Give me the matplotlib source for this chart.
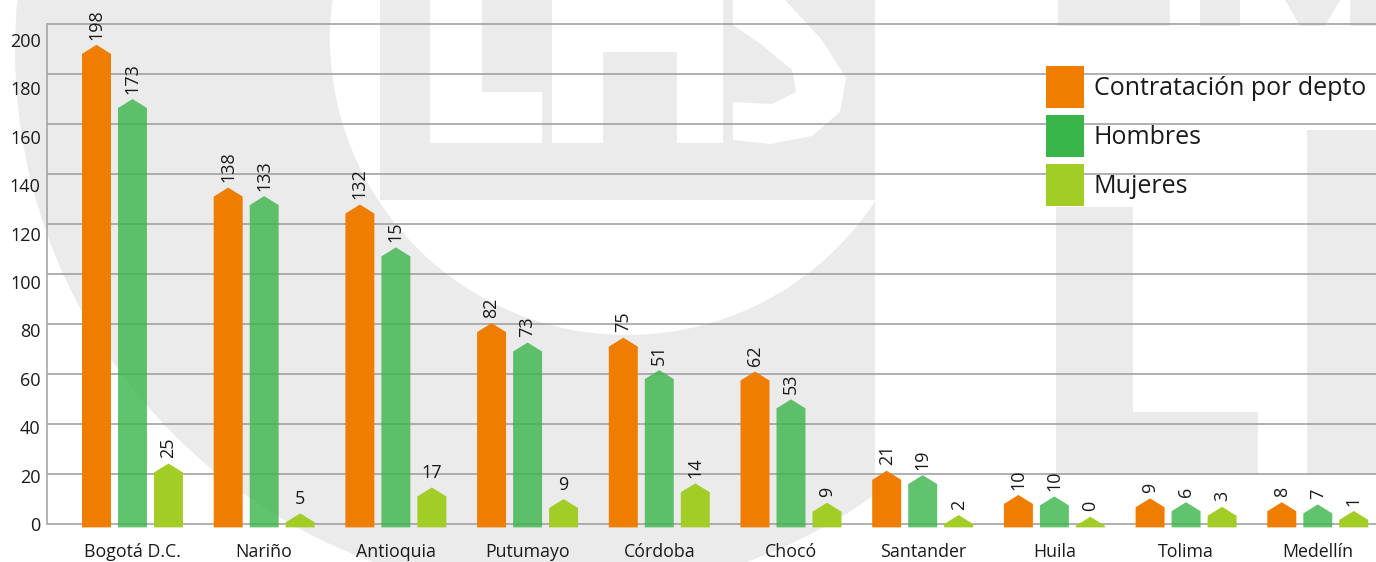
import matplotlib
matplotlib.use('Agg')
import matplotlib.pyplot as plt
from matplotlib.patches import Circle, Rectangle, Polygon, Patch

plt.rcParams['font.family'] = ['Open Sans', 'DejaVu Sans']

# ---------------- data ----------------
categories = ['Bogotá D.C.', 'Nariño', 'Antioquia', 'Putumayo', 'Córdoba',
              'Chocó', 'Santander', 'Huila', 'Tolima', 'Medellín']
series_names = ['Contratación por depto', 'Hombres', 'Mujeres']

# bar heights as drawn in the picture
contratacion = [198, 139, 132, 83, 77, 63, 22, 12, 10.6, 9]
hombres = [175.6, 135.5, 114.3, 75, 63.6, 51.5, 20.2, 11.4, 9, 8.1]
mujeres = [25, 4.4, 15.1, 10.3, 16.8, 8.8, 3.7, 3, 7.1, 5.4]

# value labels printed above the bars
contratacion_labels = ['198', '138', '132', '82', '75', '62', '21', '10', '9', '8']
hombres_labels = ['173', '133', '15', '73', '51', '53', '19', '10', '6', '7']
mujeres_labels = ['25', '5', '17', '9', '14', '9', '2', '0', '3', '1']

yticks = [0, 20, 40, 60, 80, 100, 120, 140, 160, 180, 200]

# ---------------- style ----------------
ORANGE = '#ef7d00'
GREEN = '#3ab54a'
LIME = '#a2cd27'
TXT = '#1a1a1a'
GRIDC = '#9b9b9b'
WM = '#ebebeb'

W, H = 1376, 562
PX_PER_UNIT = 2.42
GRID_STEP = 50 / PX_PER_UNIT
TIP = 9 / PX_PER_UNIT
BASE = -1.4
BAR_W = 0.22
OFFS = [-0.2733, 0.0, 0.2733]
YMIN, YMAX = -2.0, 207.5
XMIN, XMAX = -0.649, 9.442

fig = plt.figure(figsize=(W / 100, H / 100), dpi=100)

# ---------------- watermark (background) ----------------
bg = fig.add_axes([0, 0, 1, 1])
bg.set_xlim(0, W)
bg.set_ylim(H, 0)
bg.axis('off')
bg.set_zorder(0)

clip = Rectangle((0, 0), 875, H, transform=bg.transData)
ring = Circle((560, 50), 545, color=WM, lw=0)
bg.add_patch(ring)
ring.set_clip_path(clip)
inner = Circle((627, 38), 297, color='white', lw=0)
bg.add_patch(inner)
inner.set_clip_path(clip)
bg.add_patch(Rectangle((380, 0), 495, 200, color=WM, lw=0))
for (x0, y0, ww, hh_) in [(430, 0, 52, 143), (430, 92, 112, 51), (552, 0, 51, 143),
                          (603, 0, 74, 52), (677, 0, 46, 143)]:
    bg.add_patch(Rectangle((x0, y0), ww, hh_, color='white', lw=0))
bg.add_patch(Polygon([(733, 0), (785, 0), (822, 40), (846, 78), (840, 112), (812, 136),
                      (770, 144), (733, 140), (733, 102), (772, 104), (796, 92),
                      (792, 70), (762, 45), (733, 25)], closed=True, color='white', lw=0))
for (x0, y0, ww, hh_) in [(1056, 207, 77, 267), (1056, 412, 202, 62), (1307, 130, 69, 344),
                          (1058, 0, 112, 26), (1200, 0, 40, 26), (1350, 0, 26, 26)]:
    bg.add_patch(Rectangle((x0, y0), ww, hh_, color=WM, lw=0))
bg.add_patch(Polygon([(1285, 0), (1340, 0), (1325, 26), (1300, 26)], closed=True, color=WM, lw=0))

# ---------------- main axes ----------------
ax_left = 47 / W
ax_w = (W - 47) / W
top_px = 524 - YMAX * PX_PER_UNIT
bot_px = 524 - YMIN * PX_PER_UNIT
ax = fig.add_axes([ax_left, (H - bot_px) / H, ax_w, (bot_px - top_px) / H])
ax.set_zorder(1)
ax.patch.set_alpha(0)
ax.set_xlim(XMIN, XMAX)
ax.set_ylim(YMIN, YMAX)

for k in range(11):
    ax.axhline(k * GRID_STEP, color=GRIDC, lw=1.1, zorder=1)

for s in ['top', 'right', 'bottom']:
    ax.spines[s].set_visible(False)
ax.spines['left'].set_color('#a0a0a0')
ax.spines['left'].set_linewidth(1.1)
ax.spines['left'].set_bounds(0, 10 * GRID_STEP)

series = [
    (contratacion, contratacion_labels, ORANGE, 1.0, 2),
    (hombres, hombres_labels, GREEN, 0.8, 3),
    (mujeres, mujeres_labels, LIME, 1.0, 2),
]
horizontal = {(2, 1), (2, 2), (2, 3)}

for si, (vals, labs, color, alpha, z) in enumerate(series):
    for i, v in enumerate(vals):
        x = i + OFFS[si]
        sh = max(v - TIP, BASE)
        xs = [x - BAR_W / 2, x - BAR_W / 2, x, x + BAR_W / 2, x + BAR_W / 2]
        ys = [BASE, sh, v, sh, BASE]
        ax.fill(xs, ys, color=color, alpha=alpha, lw=0, zorder=z, clip_on=False)
        rot = 0 if (si, i) in horizontal else 90
        ax.text(x, v + 2.2, labs[i], rotation=rot, ha='center', va='bottom',
                fontsize=13, color=TXT, zorder=5)

ax.set_yticks(yticks)
ax.set_yticklabels([str(t) for t in yticks])
ax.set_xticks(range(len(categories)))
ax.set_xticklabels(categories)
ax.tick_params(axis='y', length=0, pad=4.5, labelsize=13, labelcolor=TXT)
ax.tick_params(axis='x', length=0, pad=10, labelsize=12.8, labelcolor=TXT)

FS = 18
fs_px = FS * 100 / 72
hh = (42 / fs_px - 0.245) / 0.65
handles = [Patch(color=ORANGE, lw=0), Patch(color=GREEN, lw=0), Patch(color=LIME, lw=0)]
ax.legend(handles, series_names, loc='upper left',
          bbox_to_anchor=(1046 / W, 1 - 66 / H), bbox_transform=fig.transFigure,
          frameon=False, fontsize=FS, handlelength=38 / fs_px, handleheight=hh,
          labelspacing=7 / fs_px, handletextpad=0.4, borderpad=0, borderaxespad=0,
          labelcolor=TXT)

fig.savefig('out.png', dpi=100)
